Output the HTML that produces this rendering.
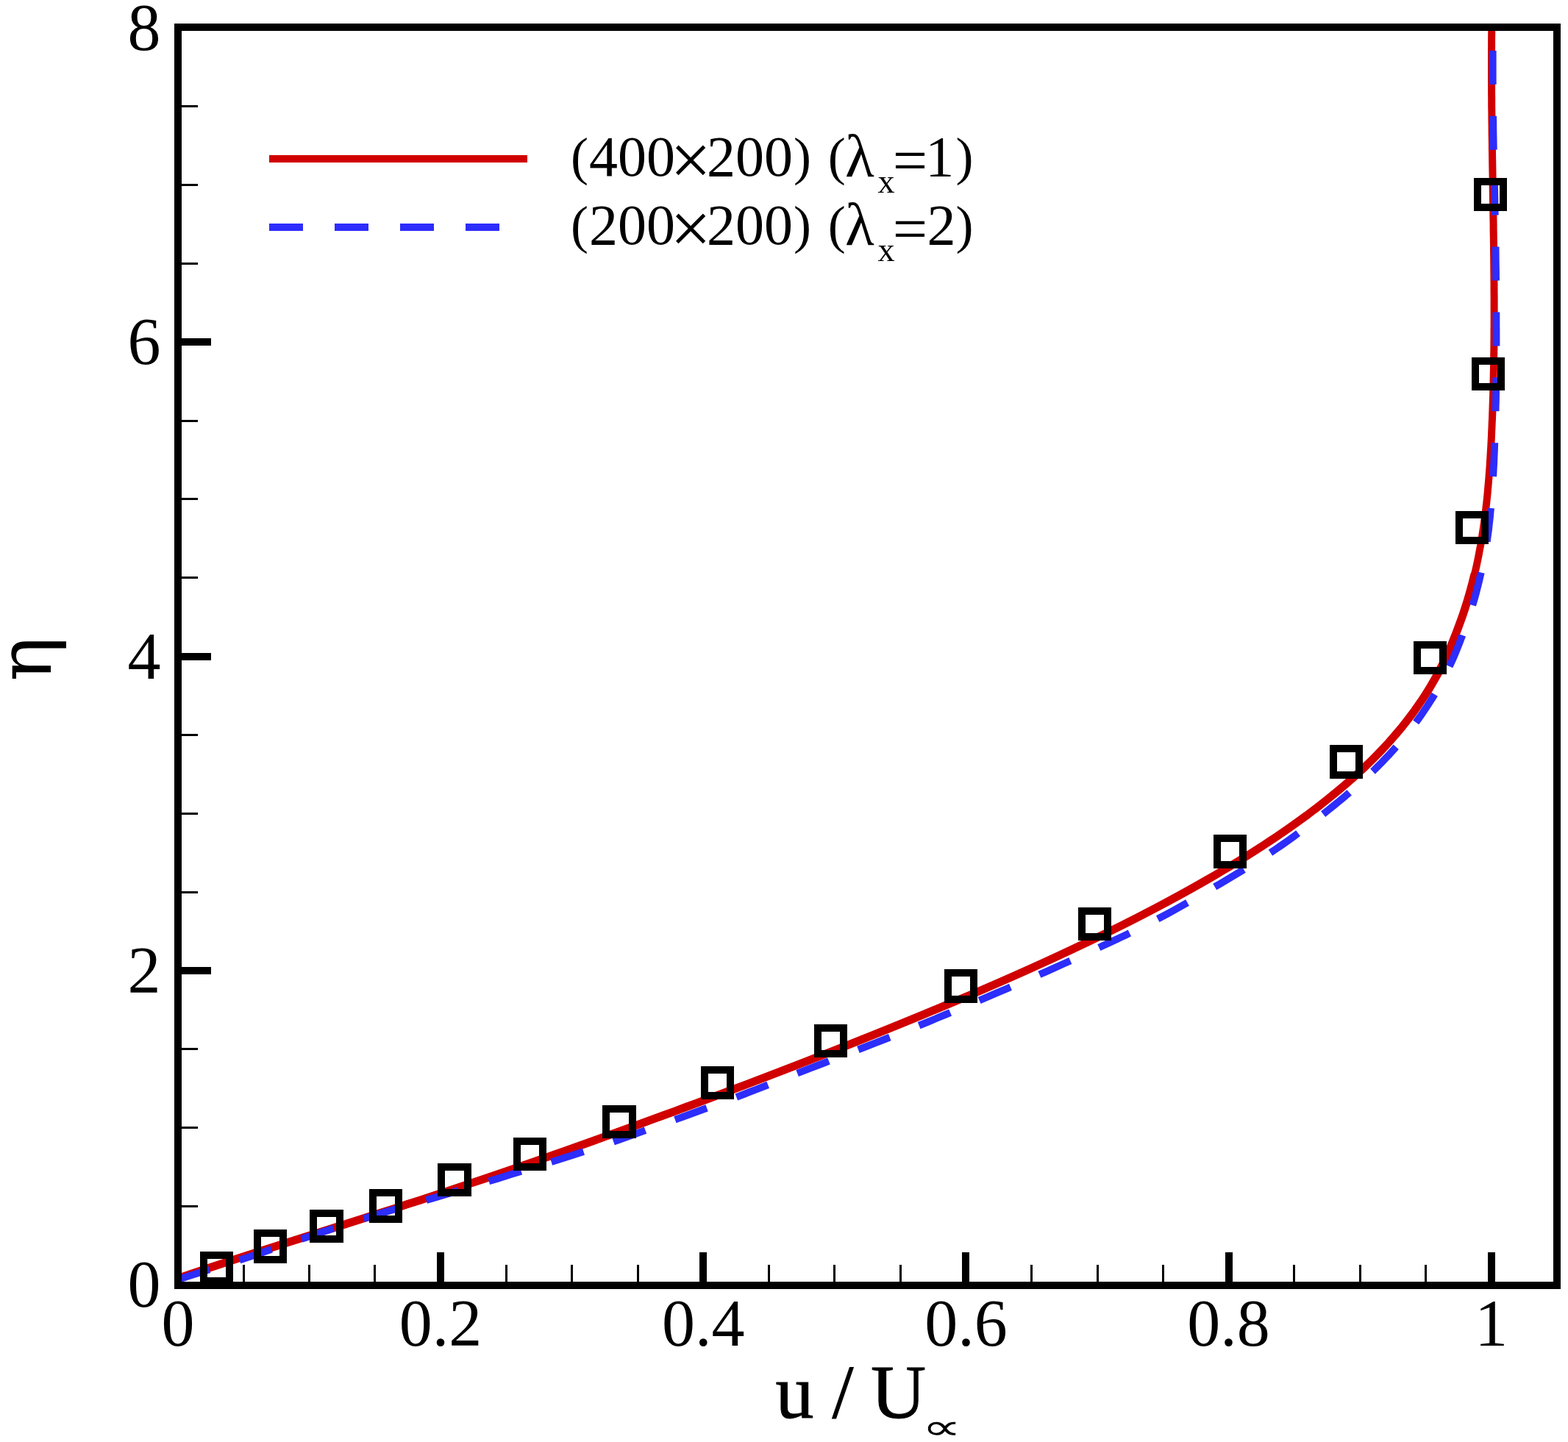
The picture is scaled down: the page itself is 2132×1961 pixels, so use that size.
<!DOCTYPE html>
<html lang="en"><head><meta charset="utf-8"><title>Velocity profile</title>
<style>html,body{margin:0;padding:0;background:#fff}svg{display:block}text{font-family:"Liberation Serif","DejaVu Serif",serif;fill:#000}.sym{font-family:"DejaVu Sans","DejaVu Serif",sans-serif}.dj{font-family:"DejaVu Serif","Liberation Serif",serif}</style></head><body>
<svg width="2132" height="1961" viewBox="0 0 2132 1961">
<rect width="2132" height="1961" fill="#fff"/>
<defs><clipPath id="c"><rect x="247" y="42" width="1865" height="1701"/></clipPath></defs>
<g fill="#000" shape-rendering="crispEdges"><rect x="242" y="1639" width="27" height="3"/><rect x="242" y="1532" width="27" height="3"/><rect x="242" y="1425" width="27" height="3"/><rect x="242" y="1315" width="45" height="10"/><rect x="242" y="1212" width="27" height="3"/><rect x="242" y="1105" width="27" height="3"/><rect x="242" y="998" width="27" height="3"/><rect x="242" y="888" width="45" height="10"/><rect x="242" y="784" width="27" height="3"/><rect x="242" y="677" width="27" height="3"/><rect x="242" y="571" width="27" height="3"/><rect x="242" y="460" width="45" height="10"/><rect x="242" y="357" width="27" height="3"/><rect x="242" y="250" width="27" height="3"/><rect x="242" y="143" width="27" height="3"/><rect x="330" y="1720" width="3" height="28"/><rect x="419" y="1720" width="3" height="28"/><rect x="508" y="1720" width="3" height="28"/><rect x="594" y="1703" width="10" height="45"/><rect x="687" y="1720" width="3" height="28"/><rect x="776" y="1720" width="3" height="28"/><rect x="866" y="1720" width="3" height="28"/><rect x="951" y="1703" width="10" height="45"/><rect x="1044" y="1720" width="3" height="28"/><rect x="1133" y="1720" width="3" height="28"/><rect x="1223" y="1720" width="3" height="28"/><rect x="1308" y="1703" width="10" height="45"/><rect x="1401" y="1720" width="3" height="28"/><rect x="1491" y="1720" width="3" height="28"/><rect x="1580" y="1720" width="3" height="28"/><rect x="1666" y="1703" width="10" height="45"/><rect x="1758" y="1720" width="3" height="28"/><rect x="1848" y="1720" width="3" height="28"/><rect x="1937" y="1720" width="3" height="28"/><rect x="2023" y="1703" width="10" height="45"/></g>
<g clip-path="url(#c)" fill="none" stroke-linejoin="round">
<path d="M234.9,1741.0 L251.7,1735.2 L268.6,1729.5 L285.7,1723.8 L303.1,1718.0 L320.7,1712.3 L338.5,1706.5 L356.4,1700.8 L374.4,1695.0 L392.4,1689.3 L410.5,1683.6 L428.7,1677.8 L446.8,1672.1 L464.9,1666.3 L482.9,1660.6 L500.8,1654.8 L518.7,1649.1 L536.5,1643.4 L554.2,1637.6 L571.8,1631.9 L589.2,1626.1 L606.6,1620.4 L623.9,1614.6 L641.0,1608.9 L658.0,1603.2 L675.0,1597.4 L691.8,1591.7 L708.5,1585.9 L725.1,1580.2 L741.6,1574.4 L758.0,1568.7 L774.3,1563.0 L790.5,1557.2 L806.6,1551.5 L822.6,1545.7 L838.6,1540.0 L854.5,1534.2 L870.3,1528.5 L886.0,1522.7 L901.6,1517.0 L917.2,1511.3 L932.7,1505.5 L948.2,1499.8 L963.5,1494.0 L978.8,1488.3 L994.1,1482.5 L1009.3,1476.8 L1024.4,1471.1 L1039.4,1465.3 L1054.4,1459.6 L1069.3,1453.8 L1084.2,1448.1 L1099.0,1442.3 L1113.7,1436.6 L1128.4,1430.9 L1143.0,1425.1 L1157.5,1419.4 L1171.9,1413.6 L1186.3,1407.9 L1200.6,1402.1 L1214.8,1396.4 L1228.9,1390.7 L1242.9,1384.9 L1256.9,1379.2 L1270.7,1373.4 L1284.5,1367.7 L1298.2,1361.9 L1311.7,1356.2 L1325.2,1350.5 L1338.6,1344.7 L1351.8,1339.0 L1365.0,1333.2 L1378.0,1327.5 L1390.9,1321.7 L1403.7,1316.0 L1416.4,1310.3 L1429.0,1304.5 L1441.4,1298.8 L1453.7,1293.0 L1465.9,1287.3 L1478.0,1281.5 L1490.0,1275.8 L1501.8,1270.1 L1513.4,1264.3 L1525.0,1258.6 L1536.4,1252.8 L1547.7,1247.1 L1558.8,1241.3 L1569.8,1235.6 L1580.7,1229.9 L1591.4,1224.1 L1602.0,1218.4 L1612.5,1212.6 L1622.8,1206.9 L1633.0,1201.1 L1643.0,1195.4 L1652.9,1189.7 L1662.6,1183.9 L1672.2,1178.2 L1681.7,1172.4 L1691.0,1166.7 L1700.2,1160.9 L1709.2,1155.2 L1718.0,1149.5 L1726.8,1143.7 L1735.4,1138.0 L1743.8,1132.2 L1752.1,1126.5 L1760.2,1120.7 L1768.2,1115.0 L1776.1,1109.3 L1783.7,1103.5 L1791.3,1097.8 L1798.7,1092.0 L1805.9,1086.3 L1813.0,1080.5 L1820.0,1074.8 L1826.7,1069.1 L1833.4,1063.3 L1839.9,1057.6 L1846.2,1051.8 L1852.4,1046.1 L1858.5,1040.3 L1864.4,1034.6 L1870.1,1028.9 L1875.7,1023.1 L1881.2,1017.4 L1886.5,1011.6 L1891.6,1005.9 L1896.6,1000.1 L1901.5,994.4 L1906.3,988.7 L1910.9,982.9 L1915.3,977.2 L1919.7,971.4 L1923.9,965.7 L1927.9,959.9 L1931.9,954.2 L1935.7,948.5 L1939.4,942.7 L1943.0,937.0 L1946.4,931.2 L1949.7,925.5 L1953.0,919.7 L1956.1,914.0 L1959.0,908.2 L1962.0,902.5 L1964.7,896.8 L1967.4,891.0 L1970.0,885.3 L1972.4,879.5 L1974.8,873.8 L1977.1,868.0 L1979.4,862.3 L1981.6,856.6 L1983.7,850.8 L1985.8,845.1 L1987.9,839.3 L1989.9,833.6 L1991.8,827.8 L1993.6,822.1 L1995.4,816.4 L1997.1,810.6 L1998.8,804.9 L2000.3,799.1 L2001.9,793.4 L2003.3,787.6 L2004.7,781.9 L2006.1,776.2 L2007.4,770.4 L2008.6,764.7 L2009.8,758.9 L2010.9,753.2 L2012.0,747.4 L2013.1,741.7 L2014.1,736.0 L2015.0,730.2 L2015.9,724.5 L2016.8,718.7 L2017.6,713.0 L2018.4,707.2 L2019.2,701.5 L2019.9,695.8 L2020.5,690.0 L2021.2,684.3 L2021.8,678.5 L2022.4,672.8 L2022.9,667.0 L2023.4,661.3 L2023.9,655.6 L2024.4,649.8 L2024.8,644.1 L2025.3,638.3 L2025.7,632.6 L2026.0,626.8 L2026.4,621.1 L2026.7,615.4 L2027.1,609.6 L2027.4,603.9 L2027.7,598.1 L2028.0,592.4 L2028.2,586.6 L2028.5,580.9 L2028.7,575.2 L2029.0,569.4 L2029.2,563.7 L2029.4,557.9 L2029.6,552.2 L2029.8,546.4 L2030.0,540.7 L2030.2,535.0 L2030.3,529.2 L2030.5,523.5 L2030.6,517.7 L2030.7,512.0 L2030.8,506.2 L2031.0,500.5 L2031.1,494.8 L2031.1,489.0 L2031.2,483.3 L2031.3,477.5 L2031.4,471.8 L2031.4,466.0 L2031.5,460.3 L2031.5,454.6 L2031.5,448.8 L2031.6,443.1 L2031.6,437.3 L2031.6,431.6 L2031.6,425.8 L2031.6,420.1 L2031.6,414.4 L2031.6,408.6 L2031.6,402.9 L2031.5,397.1 L2031.5,391.4 L2031.5,385.6 L2031.4,379.9 L2031.4,374.2 L2031.3,368.4 L2031.3,362.7 L2031.2,356.9 L2031.2,351.2 L2031.1,345.4 L2031.0,339.7 L2031.0,334.0 L2030.9,328.2 L2030.8,322.5 L2030.7,316.7 L2030.6,311.0 L2030.6,305.2 L2030.5,299.5 L2030.4,293.7 L2030.3,288.0 L2030.2,282.3 L2030.1,276.5 L2030.0,270.8 L2029.9,265.0 L2029.8,259.3 L2029.7,253.5 L2029.6,247.8 L2029.6,242.1 L2029.5,236.3 L2029.4,230.6 L2029.3,224.8 L2029.2,219.1 L2029.1,213.3 L2029.0,207.6 L2028.9,201.9 L2028.9,196.1 L2028.8,190.4 L2028.7,184.6 L2028.6,178.9 L2028.6,173.1 L2028.5,167.4 L2028.4,161.7 L2028.4,155.9 L2028.3,150.2 L2028.2,144.4 L2028.2,138.7 L2028.2,132.9 L2028.1,127.2 L2028.1,121.5 L2028.1,115.7 L2028.0,110.0 L2028.0,104.2 L2028.0,98.5 L2028.0,92.7 L2028.0,87.0 L2028.0,81.3 L2028.0,75.5 L2028.0,69.8 L2028.1,64.0 L2028.1,58.3 L2028.1,52.5 L2028.2,46.8 L2028.2,41.1 L2028.3,35.3 L2028.4,29.6 L2028.5,23.8 L2028.5,20.0" stroke="#d00000" stroke-width="10"/>
<path d="M234.9,1741.0 L251.7,1735.2 L268.6,1729.5 L285.7,1723.8 L303.1,1718.0 L320.7,1712.3 L338.5,1706.5 L356.4,1700.8 L374.4,1695.0 L392.4,1689.3 L410.5,1683.6 L428.7,1677.8 L446.8,1672.1 L464.9,1666.3 L482.9,1660.6 L500.8,1654.8 L518.7,1649.1 L536.5,1643.4 L554.2,1637.6 L571.8,1631.9 L589.2,1626.1 L606.6,1620.4 L623.9,1614.6 L641.0,1608.9 L658.0,1603.2 L675.0,1597.4 L691.8,1591.7 L708.5,1585.9 L725.1,1580.2 L741.6,1574.4 L758.0,1568.7 L774.3,1563.0 L790.5,1557.2 L806.6,1551.5 L822.6,1545.7 L838.6,1540.0 L854.5,1534.2 L870.3,1528.5 L886.0,1522.7 L901.6,1517.0 L917.2,1511.3 L932.7,1505.5 L948.2,1499.8 L963.5,1494.0 L978.8,1488.3 L994.1,1482.5 L1009.3,1476.8 L1024.4,1471.1 L1039.4,1465.3 L1054.4,1459.6 L1069.3,1453.8 L1084.2,1448.1 L1099.0,1442.3 L1113.7,1436.6 L1128.4,1430.9 L1143.0,1425.1 L1157.5,1419.4 L1171.9,1413.6 L1186.3,1407.9 L1200.6,1402.1 L1214.8,1396.4 L1228.9,1390.7 L1242.9,1384.9 L1256.9,1379.2 L1270.7,1373.4 L1284.5,1367.7 L1298.2,1361.9 L1311.7,1356.2 L1325.2,1350.5 L1338.6,1344.7 L1351.8,1339.0 L1365.0,1333.2 L1378.0,1327.5 L1390.9,1321.7 L1403.7,1316.0 L1416.4,1310.3 L1429.0,1304.5 L1441.4,1298.8 L1453.7,1293.0 L1465.9,1287.3 L1478.0,1281.5 L1490.0,1275.8 L1501.8,1270.1 L1513.4,1264.3 L1525.0,1258.6 L1536.4,1252.8 L1547.7,1247.1 L1558.8,1241.3 L1569.8,1235.6 L1580.7,1229.9 L1591.4,1224.1 L1602.0,1218.4 L1612.5,1212.6 L1622.8,1206.9 L1633.0,1201.1 L1643.0,1195.4 L1652.9,1189.7 L1662.6,1183.9 L1672.2,1178.2 L1681.7,1172.4 L1691.0,1166.7 L1700.2,1160.9 L1709.2,1155.2 L1718.0,1149.5 L1726.8,1143.7 L1735.4,1138.0 L1743.8,1132.2 L1752.1,1126.5 L1760.2,1120.7 L1768.2,1115.0 L1776.1,1109.3 L1783.7,1103.5 L1791.3,1097.8 L1798.7,1092.0 L1805.9,1086.3 L1813.0,1080.5 L1820.0,1074.8 L1826.7,1069.1 L1833.4,1063.3 L1839.9,1057.6 L1846.2,1051.8 L1852.4,1046.1 L1858.5,1040.3 L1864.4,1034.6 L1870.1,1028.9 L1875.7,1023.1 L1881.2,1017.4 L1886.5,1011.6 L1891.6,1005.9 L1896.6,1000.1 L1901.5,994.4 L1906.3,988.7 L1910.9,982.9 L1915.3,977.2 L1919.7,971.4 L1923.9,965.7 L1927.9,959.9 L1931.9,954.2 L1935.7,948.5 L1939.4,942.7 L1943.0,937.0 L1946.4,931.2 L1949.7,925.5 L1953.0,919.7 L1956.1,914.0 L1959.0,908.2 L1962.0,902.5 L1964.7,896.8 L1967.4,891.0 L1970.0,885.3 L1972.4,879.5 L1974.8,873.8 L1977.1,868.0 L1979.4,862.3 L1981.6,856.6 L1983.7,850.8 L1985.8,845.1 L1987.9,839.3 L1989.9,833.6 L1991.8,827.8 L1993.6,822.1 L1995.4,816.4 L1997.1,810.6 L1998.8,804.9 L2000.3,799.1 L2001.9,793.4 L2003.3,787.6 L2004.7,781.9" stroke="#d00000" stroke-width="11" stroke-linecap="round"/>
<path d="M235.3,1742.4 L252.2,1736.8 L269.2,1731.4 L286.5,1725.9 L303.9,1720.5 L321.6,1714.9 L339.3,1709.1 L357.1,1703.1 L375.0,1697.0 L392.9,1690.8 L410.9,1684.6 L428.9,1678.5 L446.9,1672.6 L465.0,1666.7 L483.0,1660.9 L501.0,1655.3 L518.9,1649.8 L536.8,1644.4 L554.7,1639.2 L572.5,1634.1 L590.2,1629.0 L607.7,1623.8 L625.2,1618.5 L642.5,1613.2 L659.7,1607.9 L676.8,1602.7 L693.7,1597.4 L710.6,1592.2 L727.4,1587.0 L744.1,1581.8 L760.7,1576.6 L777.2,1571.3 L793.6,1566.1 L809.9,1560.7 L826.1,1555.3 L842.1,1549.8 L858.1,1544.1 L873.9,1538.5 L889.7,1532.8 L905.3,1527.1 L921.0,1521.5 L936.5,1515.9 L952.1,1510.2 L967.5,1504.6 L982.8,1498.9 L998.1,1493.2 L1013.3,1487.4 L1028.4,1481.5 L1043.4,1475.6 L1058.3,1469.7 L1073.2,1463.8 L1088.1,1458.0 L1102.9,1452.3 L1117.6,1446.6 L1132.3,1440.9 L1146.9,1435.2 L1161.5,1429.5 L1176.0,1423.9 L1190.4,1418.2 L1204.8,1412.6 L1219.1,1407.0 L1233.2,1401.3 L1247.3,1395.6 L1261.3,1389.9 L1275.2,1384.1 L1289.0,1378.4 L1302.7,1372.6 L1316.3,1366.9 L1329.8,1361.2 L1343.2,1355.5 L1356.5,1349.8 L1369.7,1344.2 L1382.9,1338.5 L1395.9,1332.9 L1408.8,1327.3 L1421.6,1321.7 L1434.3,1316.0 L1446.8,1310.4 L1459.2,1304.8 L1471.5,1299.1 L1483.7,1293.5 L1495.8,1287.9 L1507.8,1282.3 L1519.6,1276.7 L1531.3,1271.2 L1542.8,1265.6 L1554.3,1259.9 L1565.5,1254.2 L1576.6,1248.4 L1587.5,1242.6 L1598.2,1236.7 L1608.8,1230.8 L1619.2,1224.9 L1629.6,1219.0 L1639.7,1213.1 L1649.8,1207.2 L1659.7,1201.4 L1669.6,1195.6 L1679.2,1189.8 L1688.8,1184.0 L1698.2,1178.2 L1707.4,1172.4 L1716.5,1166.6 L1725.5,1160.8 L1734.3,1155.0 L1742.9,1149.1 L1751.3,1143.2 L1759.6,1137.2 L1767.7,1131.2 L1775.7,1125.3 L1783.5,1119.3 L1791.1,1113.3 L1798.7,1107.4 L1806.1,1101.5 L1813.4,1095.6 L1820.6,1089.8 L1827.6,1083.9 L1834.5,1078.1 L1841.2,1072.3 L1847.8,1066.4 L1854.2,1060.6 L1860.5,1054.7 L1866.7,1048.9 L1872.6,1043.0 L1878.5,1037.1 L1884.1,1031.2 L1889.7,1025.3 L1895.0,1019.4 L1900.2,1013.5 L1905.3,1007.6 L1910.2,1001.7 L1915.0,995.8 L1919.6,989.8 L1924.1,983.9 L1928.4,978.0 L1932.7,972.0 L1936.7,966.1 L1940.7,960.1 L1944.5,954.2 L1948.2,948.3 L1951.8,942.4 L1955.2,936.4 L1958.5,930.5 L1961.7,924.5 L1964.8,918.6 L1967.7,912.7 L1970.6,906.7 L1973.3,900.9 L1976.0,894.9 L1978.5,889.0 L1980.9,883.1 L1983.3,877.2 L1985.5,871.4 L1987.8,865.5 L1989.9,859.7 L1992.0,853.9 L1994.1,848.1 L1996.1,842.2 L1998.1,836.4 L2000.0,830.5 L2001.8,824.7 L2003.5,818.8 L2005.2,813.0 L2006.8,807.1 L2008.3,801.3 L2009.8,795.5 L2011.3,789.6 L2012.6,783.8 L2014.0,778.0 L2015.2,772.2 L2016.4,766.3 L2017.6,760.5 L2018.7,754.7 L2019.7,748.9 L2020.7,743.1 L2021.7,737.2 L2022.5,731.4 L2023.3,725.6 L2024.1,719.8 L2024.7,714.0 L2025.4,708.2 L2026.0,702.4 L2026.5,696.6 L2027.1,690.8 L2027.6,685.0 L2028.1,679.2 L2028.5,673.4 L2028.9,667.6 L2029.3,661.8 L2029.7,656.0 L2030.1,650.3 L2030.4,644.5 L2030.7,638.7 L2031.0,632.9 L2031.3,627.2 L2031.5,621.4 L2031.8,615.6 L2032.0,609.9 L2032.2,604.1 L2032.4,598.4 L2032.6,592.6 L2032.8,586.9 L2033.0,581.1 L2033.2,575.3 L2033.3,569.6 L2033.5,563.8 L2033.6,558.1 L2033.7,552.3 L2033.9,546.6 L2034.0,540.8 L2034.1,535.1 L2034.1,529.3 L2034.2,523.6 L2034.3,517.8 L2034.3,512.1 L2034.4,506.3 L2034.4,500.6 L2034.4,494.8 L2034.4,489.1 L2034.5,483.3 L2034.5,477.6 L2034.5,471.8 L2034.5,466.1 L2034.5,460.3 L2034.5,454.6 L2034.5,448.8 L2034.4,443.1 L2034.4,437.3 L2034.4,431.6 L2034.4,425.8 L2034.4,420.1 L2034.4,414.3 L2034.3,408.6 L2034.3,402.9 L2034.2,397.1 L2034.2,391.4 L2034.1,385.6 L2034.1,379.9 L2034.0,374.1 L2034.0,368.4 L2033.9,362.6 L2033.8,356.9 L2033.7,351.2 L2033.7,345.4 L2033.6,339.7 L2033.5,333.9 L2033.4,328.2 L2033.3,322.4 L2033.2,316.7 L2033.1,310.9 L2033.0,305.2 L2032.9,299.5 L2032.8,293.7 L2032.7,288.0 L2032.6,282.2 L2032.5,276.5 L2032.4,270.7 L2032.3,265.0 L2032.2,259.3 L2032.0,253.5 L2031.9,247.8 L2031.8,242.0 L2031.6,236.3 L2031.5,230.5 L2031.4,224.8 L2031.2,219.1 L2031.1,213.3 L2031.0,207.6 L2030.8,201.8 L2030.7,196.1 L2030.6,190.4 L2030.5,184.6 L2030.4,178.9 L2030.3,173.1 L2030.3,167.4 L2030.2,161.6 L2030.1,155.9 L2030.1,150.2 L2030.0,144.4 L2029.9,138.7 L2029.9,132.9 L2029.8,127.2 L2029.8,121.4 L2029.8,115.7 L2029.7,110.0 L2029.7,104.2 L2029.7,98.5 L2029.7,92.7 L2029.7,87.0 L2029.7,81.3 L2029.7,75.5 L2029.7,69.8 L2029.8,64.0 L2029.8,58.3 L2029.8,52.6 L2029.9,46.8 L2029.9,41.1 L2030.0,35.3 L2030.1,29.6 L2030.2,23.9 L2030.2,20.0" stroke="#2d2dfc" stroke-width="9.8" stroke-dasharray="46 42.9" stroke-dashoffset="-6"/>
</g>
<path fill="#000" fill-rule="evenodd" shape-rendering="crispEdges" d="M272,1702H317V1747H272ZM282,1712V1737H307V1712ZM345,1672H390V1718H345ZM355,1682V1708H380V1682ZM421,1645H467V1690H421ZM431,1655V1680H457V1655ZM502,1617H547V1663H502ZM512,1627V1653H537V1627ZM595,1582H641V1627H595ZM605,1592V1617H631V1592ZM698,1547H743V1592H698ZM708,1557V1582H733V1557ZM819,1503H865V1548H819ZM829,1513V1538H855V1513ZM953,1450H998V1495H953ZM963,1460V1485H988V1460ZM1107,1393H1152V1438H1107ZM1117,1403V1428H1142V1403ZM1284,1318H1329V1364H1284ZM1294,1328V1354H1319V1328ZM1466,1234H1511V1279H1466ZM1476,1244V1269H1501V1244ZM1650,1135H1695V1181H1650ZM1660,1145V1171H1685V1145ZM1808,1013H1853V1059H1808ZM1818,1023V1049H1843V1023ZM1922,872H1967V917H1922ZM1932,882V907H1957V882ZM1979,695H2024V740H1979ZM1989,705V730H2014V705ZM2001,486H2046V531H2001ZM2011,496V521H2036V496ZM2004,242H2049V287H2004ZM2014,252V277H2039V252Z"/>
<rect x="242" y="37" width="1875" height="1711" fill="none" stroke="#000" stroke-width="10" shape-rendering="crispEdges"/>
<rect x="366" y="211" width="351" height="10" fill="#d00000" shape-rendering="crispEdges"/>
<g fill="#2d2dfc" shape-rendering="crispEdges"><rect x="366" y="304" width="46" height="10"/><rect x="455" y="304" width="46" height="10"/><rect x="544" y="304" width="46" height="10"/><rect x="633" y="304" width="46" height="10"/></g>
<text font-size="78"><tspan x="776" y="237.2" font-size="72">(</tspan><tspan x="800.97" y="238.5">400</tspan><tspan x="911.3" y="250.9" font-size="98.7">×</tspan><tspan x="961" y="238.5">200</tspan><tspan x="1079" y="237.2" font-size="72">) </tspan><tspan x="1125.7" y="237.2" font-size="72">(</tspan><tspan x="1148.9" y="239.5" font-size="82">λ</tspan><tspan x="1193.4" y="261.9" font-size="46">x</tspan><tspan x="1213.8" y="247.0" font-size="84">=</tspan><tspan x="1258.3" y="238.5">1</tspan><tspan x="1299.5" y="237.2" font-size="72">)</tspan></text>
<text font-size="78"><tspan x="776" y="330.2" font-size="72">(</tspan><tspan x="800.97" y="331.5">200</tspan><tspan x="911.3" y="343.9" font-size="98.7">×</tspan><tspan x="961" y="331.5">200</tspan><tspan x="1079" y="330.2" font-size="72">) </tspan><tspan x="1125.7" y="330.2" font-size="72">(</tspan><tspan x="1148.9" y="332.5" font-size="82">λ</tspan><tspan x="1193.4" y="354.9" font-size="46">x</tspan><tspan x="1213.8" y="340.0" font-size="84">=</tspan><tspan x="1260.4" y="331.5">2</tspan><tspan x="1299.5" y="330.2" font-size="72">)</tspan></text>
<text x="218.5" y="1777.4" font-size="90" text-anchor="end">0</text>
<text x="218.5" y="1350.0" font-size="90" text-anchor="end">2</text>
<text x="218.5" y="922.6" font-size="90" text-anchor="end">4</text>
<text x="218.5" y="495.2" font-size="90" text-anchor="end">6</text>
<text x="218.5" y="67.8" font-size="90" text-anchor="end">8</text>
<text x="242.0" y="1830" font-size="90" text-anchor="middle">0</text>
<text x="599.1" y="1830" font-size="90" text-anchor="middle">0.2</text>
<text x="956.3" y="1830" font-size="90" text-anchor="middle">0.4</text>
<text x="1313.4" y="1830" font-size="90" text-anchor="middle">0.6</text>
<text x="1670.6" y="1830" font-size="90" text-anchor="middle">0.8</text>
<text x="2027.7" y="1830" font-size="90" text-anchor="middle">1</text>
<text y="1928.2" font-size="104" stroke="#000" stroke-width="1"><tspan x="1054.4">u </tspan><tspan x="1131.6">/ </tspan><tspan x="1183.9">U</tspan><tspan class="sym" x="1253.7" y="1957" font-size="48.3" stroke="none" textLength="53.5" lengthAdjust="spacingAndGlyphs">∝</tspan></text>
<text class="dj" font-size="101.6" transform="translate(68.9,926.7) rotate(-90)">η</text>
</svg></body></html>
